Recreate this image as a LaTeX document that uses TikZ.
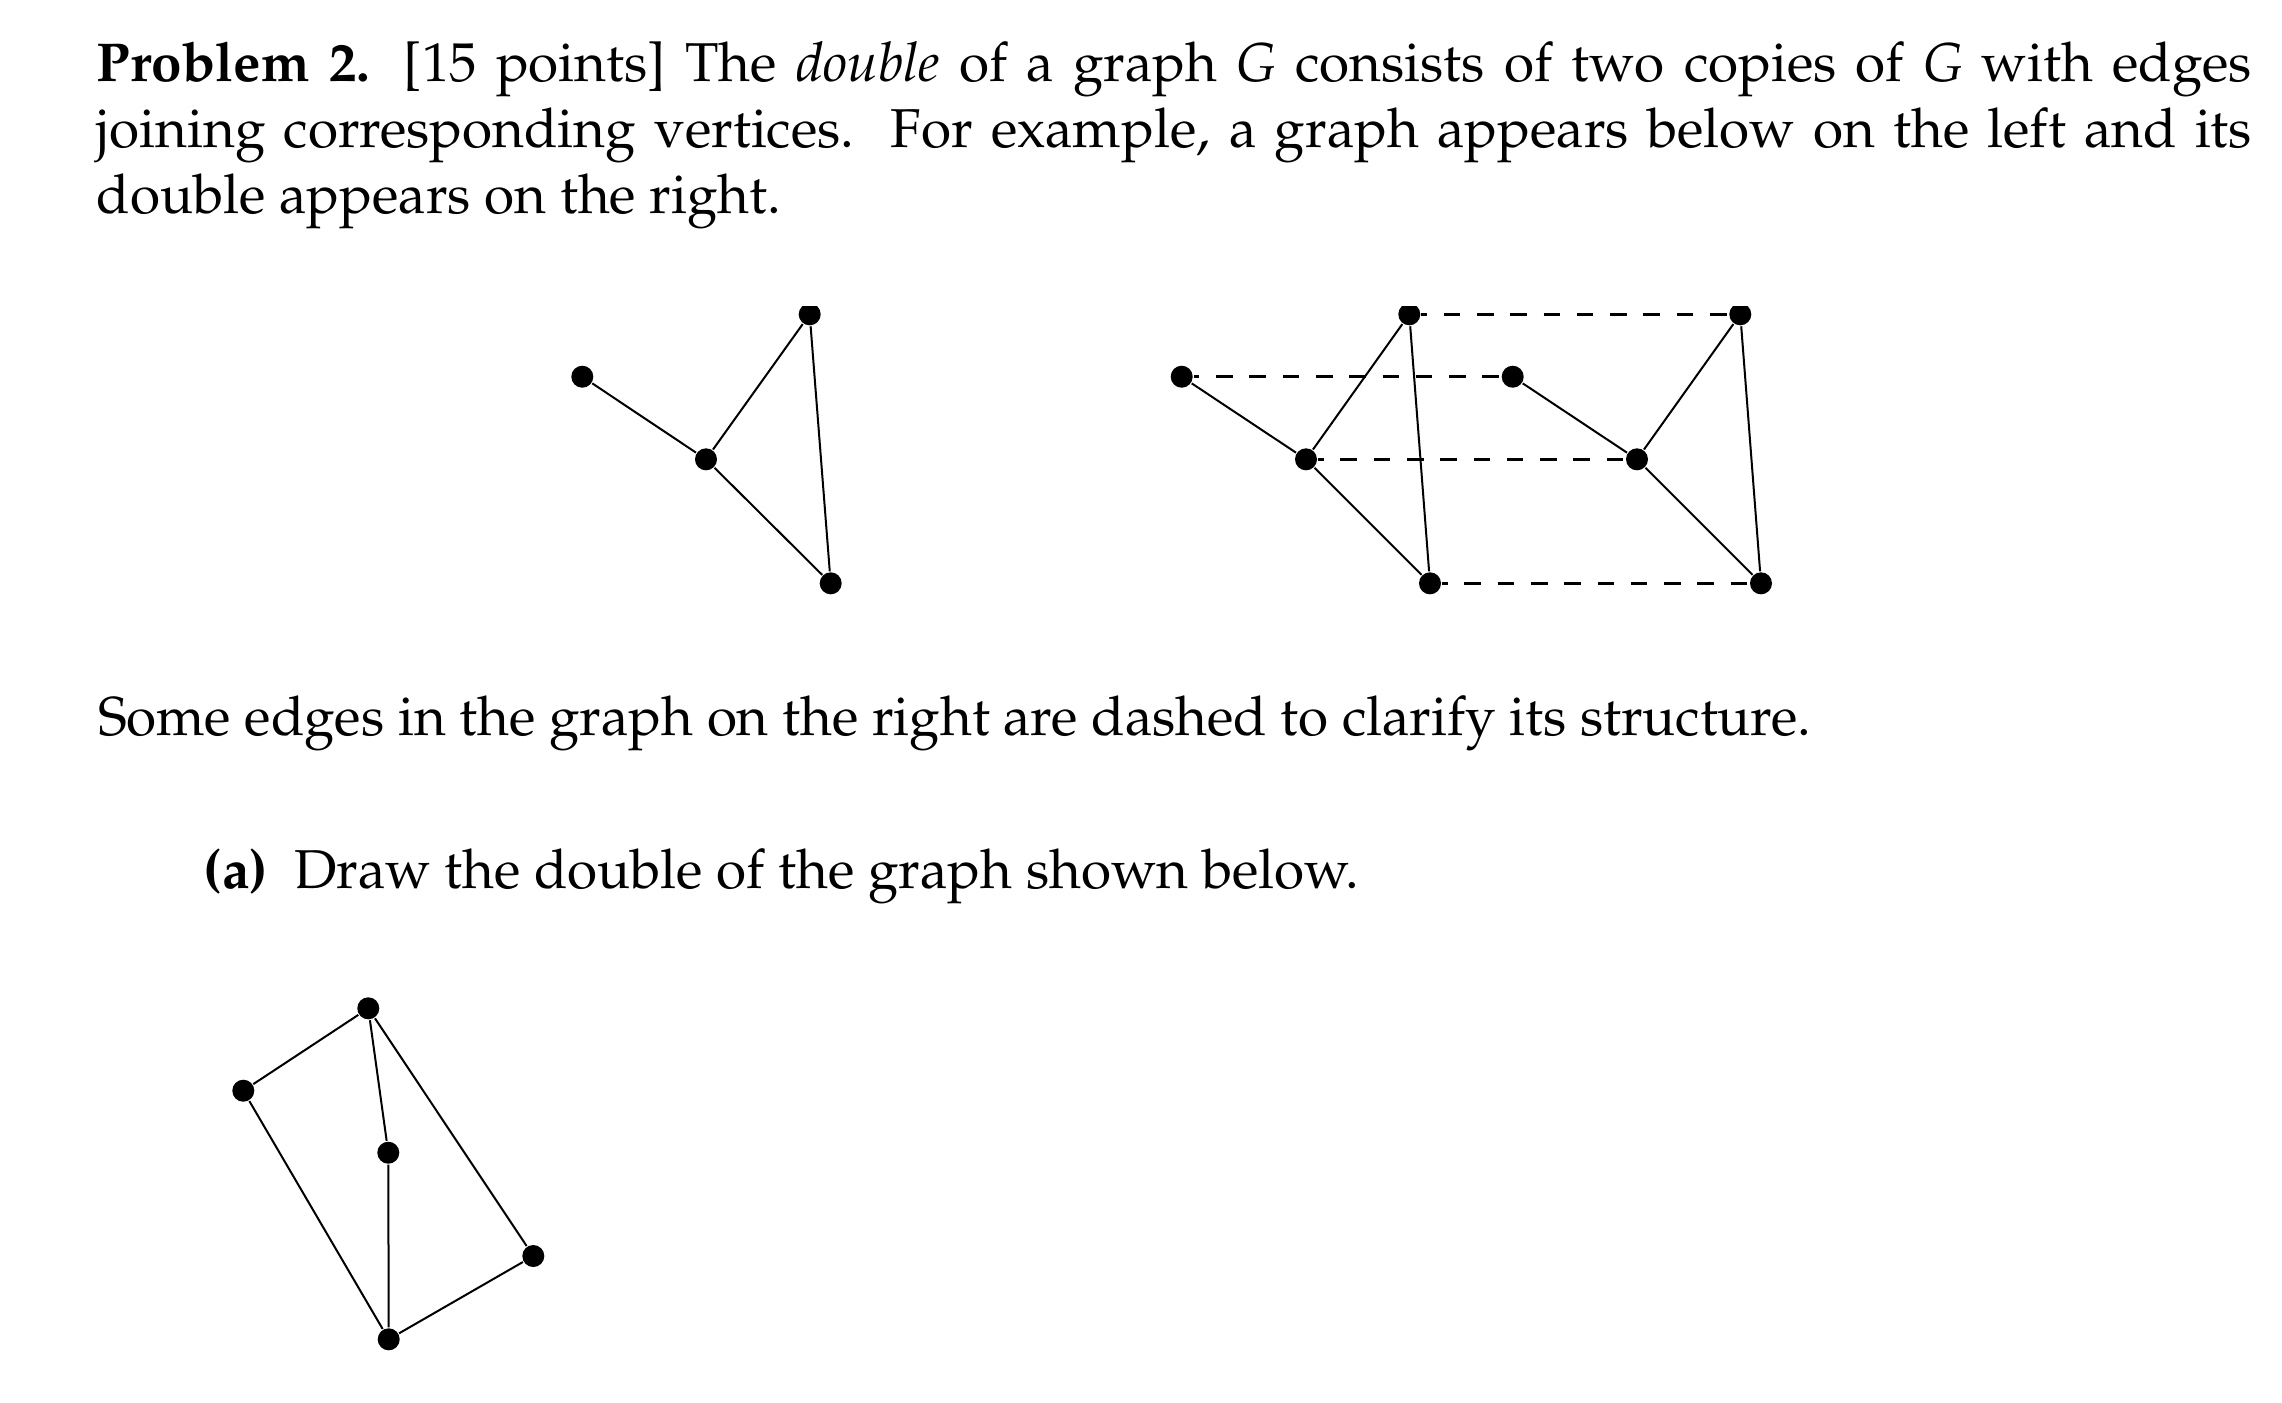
\documentclass[tikz,border=0pt]{standalone}
\usepackage[T1]{fontenc}
\usepackage{mathpazo}
\begin{document}
\begin{tikzpicture}[x=0.2pt,y=-0.2pt,
  vtx/.style={circle,fill=black,draw=none,inner sep=0pt,minimum size=4.4pt},
  edge/.style={line width=0.4pt},
  dbl/.style={line width=0.5pt,dash pattern=on 3.33pt off 3.33pt,dash phase=2.2pt},
  txt/.style={anchor=base west,inner sep=0pt,outer sep=0pt,font=\fontsize{10.95}{13.2}\selectfont}]
\useasboundingbox[fill=white] (0,0) rectangle (2282,1402);

% text
\node[txt] (l1) at (97,81) {\makebox[431pt][s]{\textbf{Problem 2.} [15 points] The \emph{double} of a graph \textit{G} consists of two copies of \textit{G} with edges}};
\node[txt] (l2) at (97,147.3) {\makebox[431pt][s]{joining corresponding vertices.\ \ For example, a graph appears below on the left and its}};
\node[txt] (l3) at (97,213.3) {double appears on the right.};
\node[txt] (l4) at (98,735.5) {Some edges in the graph on the right are dashed to clarify its structure.};
\node[txt] (lab) at (204,888) {\textbf{(a)}};
\node[txt] (l5) at (294,888) {Draw the double of the graph shown below.};

\begin{scope}
\clip (0,306) rectangle (2282,700);
% left graph
\node[vtx] (LA) at (582.3,376.7) {};
\node[vtx] (LM) at (706,459.3) {};
\node[vtx] (LT) at (809.7,314.3) {};
\node[vtx] (LB) at (830.7,583.3) {};
\draw[edge] (LA) -- (LM);
\draw[edge] (LM) -- (LT);
\draw[edge] (LM) -- (LB);
\draw[edge] (LT) -- (LB);
% right graph, copy 1
\node[vtx] (A1) at (1181.7,376.7) {};
\node[vtx] (M1) at (1306,459.3) {};
\node[vtx] (T1) at (1409.3,314.3) {};
\node[vtx] (B1) at (1430,583.3) {};
% copy 2
\node[vtx] (A2) at (1512.7,376.7) {};
\node[vtx] (M2) at (1637,459.3) {};
\node[vtx] (T2) at (1740.3,314.3) {};
\node[vtx] (B2) at (1761,583.3) {};
\draw[dbl] (A1) -- (A2);
\draw[dbl] (T1) -- (T2);
\draw[dbl] (M1) -- (M2);
\draw[dbl] (B1) -- (B2);
\draw[edge] (A1) -- (M1);
\draw[edge] (M1) -- (T1);
\draw[edge] (M1) -- (B1);
\draw[edge] (T1) -- (B1);
\draw[edge] (A2) -- (M2);
\draw[edge] (M2) -- (T2);
\draw[edge] (M2) -- (B2);
\draw[edge] (T2) -- (B2);
\end{scope}

% graph for part (a)
\node[vtx] (P) at (368.3,1008.3) {};
\node[vtx] (Q) at (243.3,1090.7) {};
\node[vtx] (R) at (388.3,1152.7) {};
\node[vtx] (S) at (533.3,1256) {};
\node[vtx] (U) at (388.7,1339.3) {};
\draw[edge] (P) -- (Q);
\draw[edge] (P) -- (R);
\draw[edge] (P) -- (S);
\draw[edge] (Q) -- (U);
\draw[edge] (R) -- (U);
\draw[edge] (S) -- (U);
\end{tikzpicture}
\end{document}
